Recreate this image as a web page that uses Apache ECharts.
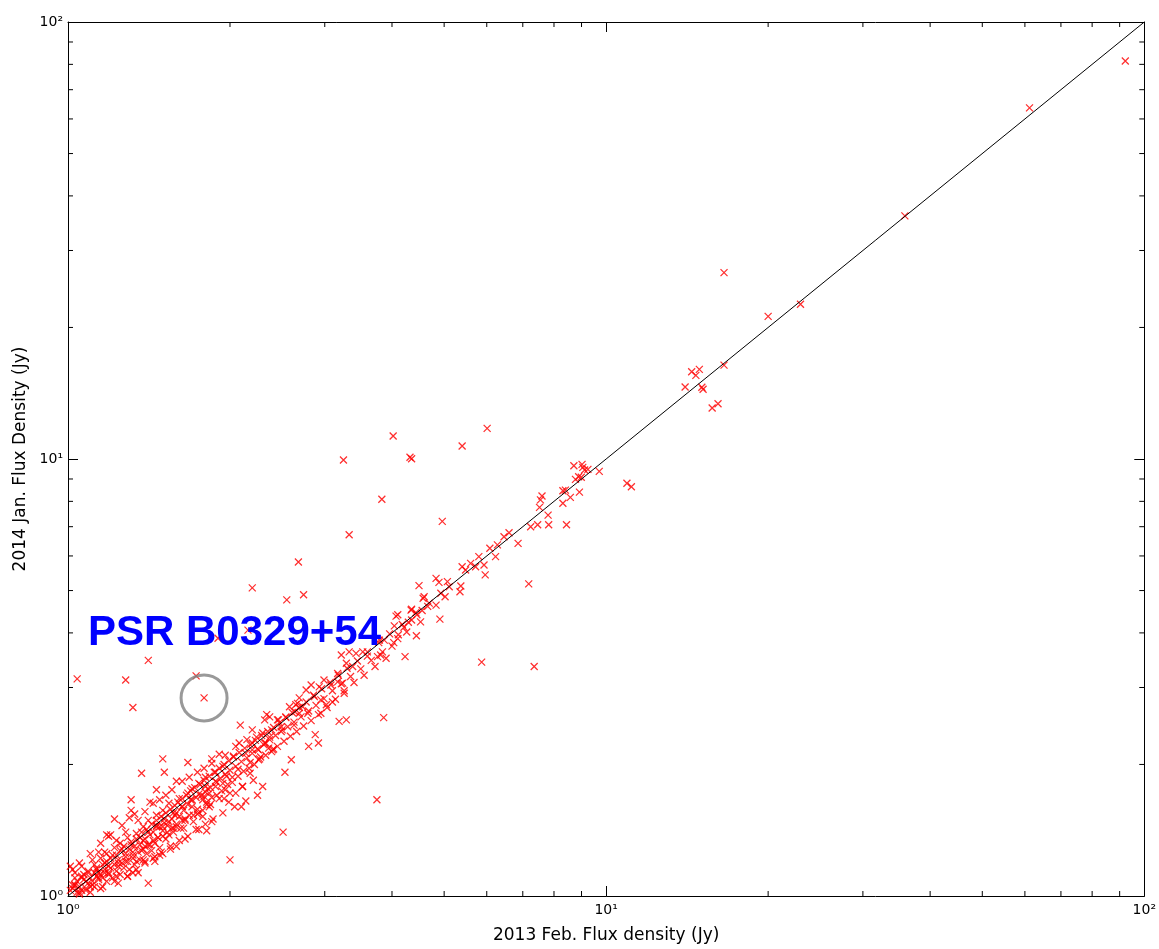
<!DOCTYPE html>
<html>
<head>
<meta charset="utf-8">
<script src="https://cdn.jsdelivr.net/npm/echarts@6/dist/echarts.min.js"></script>
<style>
html,body{margin:0;padding:0;background:#fff;}
#chart{width:1159px;height:949px;}
</style>
</head>
<body>
<div id="chart"></div>
<script>
// 2013 Feb. flux density (Jy) – x values
const fluxFeb2013 = [
92.2,61.2,35.9,16.56,20.0,22.97,16.56,14.42,14.9,14.68,14.02,15.06,15.14,15.74,16.14,
8.71,9.02,9.05,9.12,8.89,8.77,8.99,9.25,9.71,8.31,8.40,8.58,8.92,8.31,10.93,11.14,
4.02,6.01,5.40,4.32,4.35,3.83,4.96,7.60,7.55,7.52,7.80,7.24,7.46,7.82,8.44,6.60,6.46,6.86,6.08,6.28,6.23,5.80,5.60,5.40,5.48,5.72,5.93,5.96,7.18,
4.49,4.83,4.89,5.07,5.11,5.37,5.35,4.93,5.02,4.59,4.69,4.83,4.34,4.43,4.52,4.91,4.10,4.29,4.04,4.21,4.11,4.44,4.00,3.87,4.23,3.81,5.87,7.35,
3.33,2.68,2.20,2.55,2.74,4.07,4.35,4.57,3.79,3.76,3.60,3.53,3.43,3.33,3.22,3.29,3.38,3.17,3.24,3.17,2.99,3.08,3.26,3.10,2.93,2.83,2.77,2.87,2.95,3.02,
2.69,2.67,2.73,2.79,2.95,2.58,2.64,2.54,2.45,2.37,2.32,2.49,2.39,2.30,2.24,2.32,2.40,2.20,3.19,3.29,3.86,2.88,2.92,
1.79,1.04,1.28,1.41,1.32,1.90,2.16,1.73,2.53,1.50,1.67,1.37,1.51,3.75,2.51,2.00,1.41,1.81,3.25,
1.85,1.91,1.59,1.46,1.31,1.31,1.30,1.18,1.19,1.05,1.02,1.24,1.99,1.95,1.75,1.64,1.57,1.59,1.50,1.45,1.39,1.34,1.32,1.29,1.23,1.14,1.08,
2.08,2.15,2.20,2.09,2.34,2.46,2.65,2.63,2.37,2.41,2.26,2.14,2.03,1.94,1.88,1.80,1.75,1.70,1.67,1.61,1.54,1.50,1.46,1.41,1.38,1.34,1.29,1.25,1.22,1.18,1.15,1.12,1.09,1.06,1.03,1.01,
1.54,1.56,1.63,1.50,1.44,1.39,1.32,1.28,1.24,1.19,1.17,1.13,1.10,1.05,1.03,1.01,
1.78,1.83,1.88,1.94,1.83,1.80,1.70,1.63,1.59,2.33,2.36,2.50,2.69,2.20,2.02,1.96,2.05,2.11,2.18,2.26,1.79,
1.17,1.14,1.11,1.06,1.03,1.23,1.28,1.35,1.39,1.44,1.48,1.52,1.56,1.63,1.68,1.74,1.79,1.85,1.96,2.05,1.46,1.38,1.50,
1.81,1.74,1.48,1.38,1.02,
1.02,1.04,1.04,1.05,1.06,1.07,1.07,1.08,1.09,1.10,1.10,1.11,1.12,1.12,1.13,1.14,1.15,1.15,1.16,1.16,1.17,1.18,1.18,1.19,1.20,1.20,1.21,1.22,1.23,1.23,
1.24,1.25,1.25,1.26,1.27,1.27,1.28,1.29,1.30,1.30,1.31,1.32,1.33,1.33,1.34,1.35,1.36,1.36,1.37,1.38,1.39,1.40,1.40,1.41,1.42,1.43,1.43,1.44,1.45,1.46,
1.47,1.48,1.48,1.49,1.50,1.51,1.52,1.52,1.53,1.54,1.55,1.56,1.57,1.58,1.58,1.59,1.60,1.61,1.62,1.63,1.64,1.65,1.66,1.67,1.68,1.69,1.70,1.71,1.72,1.73,
1.74,1.76,1.77,1.78,1.79,1.80,1.81,1.83,1.84,1.85,1.87,1.88,1.89,1.91,1.92,1.93,1.95,1.96,1.98,1.99,2.00,2.02,2.03,2.05,2.07,2.08,2.10,2.12,2.13,2.15,
2.17,2.18,2.20,2.22,2.23,2.25,2.27,2.29,2.31,2.33,2.35,2.37,2.39,2.41,2.43,2.45,2.47,2.49,2.52,2.54,2.56,2.59,2.61,2.63,2.66,2.69,2.71,2.74,2.77,2.80,
2.83,2.86,2.89,2.92,2.96,2.99,3.03,3.07,3.10,3.14,3.18,3.22,3.26,3.30,3.35,3.40,3.45,3.50,3.55,3.60,3.66,3.72,3.78,3.84,3.90,3.96,4.03,4.10,4.18,4.26,
4.35,4.45,4.55,4.66,
1.10,1.15,1.20,1.26,1.33,1.42,1.22,1.35,1.45,1.55,1.65,1.75,1.85,2.10,2.30,2.60,2.80,
1.03,1.05,1.06,1.08,1.09,1.11,1.13,1.14,1.16,1.17,1.19,1.21,1.22,1.24,1.26,1.28,1.29,1.31,1.32,1.34,1.36,1.37,1.39,1.41,1.42,1.44,1.46,1.47,1.49,1.51,
1.53,1.55,1.57,1.59,1.61,1.63,1.65,1.67,1.69,1.71,1.73,1.75,1.78,1.80,1.82,1.84,1.86,1.89,1.91,1.94,1.97,2.00,2.04,2.07,2.11,2.14,2.18,2.21,2.25,2.28
];
// 2014 Jan. flux density (Jy) – y values
const fluxJan2014 = [
81.4,63.6,36.0,26.7,21.2,22.6,16.4,15.84,16.04,15.54,14.61,14.59,14.44,13.08,13.38,
9.65,9.72,9.57,9.44,9.11,8.98,9.08,9.47,9.37,8.46,8.49,8.17,8.40,7.92,8.80,8.64,
11.29,11.75,10.71,10.09,10.01,8.09,7.20,8.23,8.06,7.75,7.44,7.00,7.07,7.07,7.07,6.78,6.64,6.41,6.25,6.36,5.98,5.98,5.77,5.67,5.57,5.67,5.72,5.43,5.18,
5.13,5.33,5.22,5.24,5.10,5.12,4.97,4.93,4.84,4.84,4.68,4.63,4.51,4.45,4.24,4.30,4.40,4.23,4.15,4.12,3.96,3.94,3.73,3.85,3.53,3.56,3.43,3.35,
6.71,5.81,5.07,4.76,4.89,4.37,4.53,4.80,3.85,3.53,3.54,3.62,3.59,3.62,3.56,3.41,3.35,3.23,3.07,3.09,3.12,3.04,2.91,2.78,3.01,3.04,2.96,2.86,2.81,2.74,
2.84,2.76,2.71,2.62,2.62,2.71,2.64,2.57,2.53,2.57,2.53,2.44,2.40,2.36,2.31,2.24,2.16,2.16,2.51,2.53,2.56,2.34,2.24,
2.84,3.14,3.12,3.46,2.70,3.89,4.06,3.19,1.92,2.06,2.02,1.91,1.92,1.66,1.40,1.21,1.07,1.41,9.95,
2.06,2.11,1.83,1.75,1.66,1.57,1.51,1.38,1.37,1.19,1.15,1.07,1.64,1.67,1.55,1.43,1.43,1.30,1.25,1.23,1.20,1.20,1.13,1.11,1.11,1.13,1.08,
2.24,2.28,2.40,2.46,2.60,2.53,2.74,2.46,2.31,2.17,2.16,2.12,2.08,1.98,1.92,1.87,1.81,1.76,1.72,1.67,1.63,1.57,1.53,1.49,1.44,1.39,1.36,1.32,1.29,1.25,1.22,1.18,1.14,1.10,1.06,1.03,
1.48,1.43,1.49,1.37,1.34,1.30,1.26,1.23,1.19,1.17,1.13,1.11,1.05,1.02,1.10,1.17,
1.66,1.72,1.78,1.81,1.60,1.78,1.66,1.60,1.55,2.24,2.18,2.40,2.62,2.24,1.87,1.75,1.72,1.78,1.91,2.05,1.69,
1.26,1.26,1.21,1.17,1.13,1.34,1.40,1.49,1.56,1.63,1.66,1.70,1.75,1.83,1.87,1.92,1.96,2.01,2.10,2.20,1.44,1.34,1.44,
1.64,1.54,1.24,1.21,1.06,
1.04,1.02,1.08,1.05,1.03,1.09,1.12,1.04,1.07,1.10,1.02,1.08,1.13,1.05,1.16,1.09,1.12,1.04,1.18,1.10,1.15,1.08,1.20,1.12,1.16,1.22,1.10,1.18,1.14,1.24,
1.21,1.12,1.27,1.19,1.16,1.30,1.25,1.20,1.28,1.15,1.33,1.22,1.30,1.18,1.35,1.26,1.31,1.21,1.40,1.28,1.35,1.25,1.42,1.31,1.38,1.27,1.46,1.40,1.32,1.49,
1.36,1.44,1.29,1.52,1.41,1.47,1.35,1.55,1.45,1.38,1.58,1.50,1.40,1.61,1.53,1.46,1.64,1.52,1.43,1.67,1.57,1.50,1.70,1.62,1.53,1.74,1.60,1.48,1.77,1.68,
1.58,1.80,1.70,1.52,1.84,1.73,1.62,1.88,1.77,1.68,1.92,1.83,1.70,1.96,1.86,1.74,2.00,1.90,1.80,2.04,1.94,1.82,2.09,1.98,1.88,2.13,2.03,1.93,2.18,2.07,
1.96,2.22,2.12,2.00,2.27,2.17,2.06,2.33,2.22,2.10,2.38,2.28,2.14,2.43,2.33,2.20,2.49,2.38,2.26,2.56,2.44,2.32,2.63,2.50,2.38,2.70,2.57,2.45,2.78,2.65,
2.52,2.88,2.73,2.60,2.98,2.83,2.70,3.08,2.95,2.82,3.20,3.06,2.95,3.32,3.18,3.08,3.45,3.31,3.20,3.62,3.46,3.35,3.80,3.62,3.50,3.98,3.80,3.88,4.18,4.02,
4.28,4.40,4.50,4.60,
1.25,1.32,1.38,1.45,1.54,1.64,1.50,1.13,1.20,1.28,1.35,1.42,1.48,1.60,1.78,2.05,2.20,
1.06,1.01,1.11,1.03,1.13,1.06,1.15,1.10,1.05,1.19,1.13,1.24,1.08,1.17,1.28,1.20,1.11,1.31,1.24,1.15,1.36,1.27,1.19,1.40,1.31,1.22,1.45,1.36,1.26,1.50,
1.40,1.30,1.55,1.44,1.34,1.60,1.49,1.37,1.66,1.53,1.42,1.71,1.57,1.46,1.76,1.62,1.50,1.82,1.67,1.55,1.88,1.72,1.60,1.95,1.78,1.65,2.02,1.84,1.70,2.08
];
// highlighted source
const pulsarName = 'PSR B0329+54';
const pulsarPoint = [1.79, 2.84];
// reference line (equal flux)
const equalityLine = [[1, 1], [100, 100]];
// axis ranges & ticks
const axisMin = 1, axisMax = 100;
const minorTicks = [2,3,4,5,6,7,8,9,20,30,40,50,60,70,80,90];
const tickLabels = {1: '10\u2070', 10: '10\u00B9', 100: '10\u00B2'};
const xTitle = '2013 Feb. Flux density (Jy)';
const yTitle = '2014 Jan. Flux Density (Jy)';

const points = fluxFeb2013.map((x, i) => [x, fluxJan2014[i]]);

const chart = echarts.init(document.getElementById('chart'), null, {renderer: 'canvas'});

const labelFmt = v => tickLabels[Math.round(v)] || '';
const baseAxis = {
  type: 'log', logBase: 10, min: axisMin, max: axisMax, splitNumber: 2,
  axisLine: {show: true, onZero: false, lineStyle: {color: '#000', width: 1}},
  axisTick: {show: true, inside: true, length: 10, lineStyle: {color: '#000'}},
  splitLine: {show: false}, minorTick: {show: false}
};
const tickFont = {fontSize: 14, fontFamily: 'DejaVu Sans', color: '#000'};

chart.setOption({
  animation: false,
  backgroundColor: '#fff',
  grid: {left: 68, top: 22, right: 12, bottom: 53, containLabel: false},
  xAxis: [
    Object.assign({}, baseAxis, {
      position: 'bottom',
      name: xTitle, nameLocation: 'middle', nameGap: 31,
      nameTextStyle: {fontFamily: 'DejaVu Sans', fontSize: 17, color: '#000'},
      axisLabel: Object.assign({formatter: labelFmt, margin: 7}, tickFont)
    }),
    Object.assign({}, baseAxis, {position: 'top', axisLabel: {show: false}})
  ],
  yAxis: [
    Object.assign({}, baseAxis, {
      position: 'left',
      name: yTitle, nameLocation: 'middle', nameGap: 36,
      nameTextStyle: {fontFamily: 'DejaVu Sans', fontSize: 17, color: '#000'},
      axisLabel: Object.assign({formatter: labelFmt, margin: 5}, tickFont)
    }),
    Object.assign({}, baseAxis, {position: 'right', axisLabel: {show: false}})
  ],
  series: [
    {
      type: 'custom', xAxisIndex: 0, yAxisIndex: 0, silent: true,
      data: minorTicks.map(v => [v, v]),
      renderItem: function (params, api) {
        const v = api.value(0);
        const cs = params.coordSys;
        const px = api.coord([v, axisMin])[0];
        const py = api.coord([axisMin, v])[1];
        const L = 5;
        const st = {stroke: '#000', lineWidth: 1};
        return {type: 'group', children: [
          {type: 'line', shape: {x1: px, y1: cs.y + cs.height, x2: px, y2: cs.y + cs.height - L}, style: st},
          {type: 'line', shape: {x1: px, y1: cs.y, x2: px, y2: cs.y + L}, style: st},
          {type: 'line', shape: {x1: cs.x, y1: py, x2: cs.x + L, y2: py}, style: st},
          {type: 'line', shape: {x1: cs.x + cs.width, y1: py, x2: cs.x + cs.width - L, y2: py}, style: st}
        ]};
      }
    },
    {
      type: 'scatter', xAxisIndex: 0, yAxisIndex: 0,
      data: points,
      symbol: 'path://M0 0L10 10M10 0L0 10',
      symbolSize: 7,
      itemStyle: {color: 'rgba(0,0,0,0)', borderColor: '#ff0000', borderWidth: 1.25, opacity: 0.82},
      emphasis: {disabled: true},
      silent: true
    },
    {
      type: 'line', xAxisIndex: 0, yAxisIndex: 0,
      data: equalityLine, symbol: 'none',
      lineStyle: {color: '#000', width: 1}, silent: true, z: 5
    },
    {
      type: 'scatter', xAxisIndex: 0, yAxisIndex: 0,
      data: [pulsarPoint],
      symbol: 'circle', symbolSize: 46,
      itemStyle: {color: 'rgba(0,0,0,0)', borderColor: '#808080', borderWidth: 3},
      silent: true, z: 6
    }
  ],
  graphic: [
    {type: 'text', x: 88, y: 633, z: 10,
     style: {text: pulsarName, font: 'bold 42px "Liberation Sans"', fill: '#0000ff', verticalAlign: 'middle', align: 'left'}}
  ]
});
</script>
</body>
</html>
